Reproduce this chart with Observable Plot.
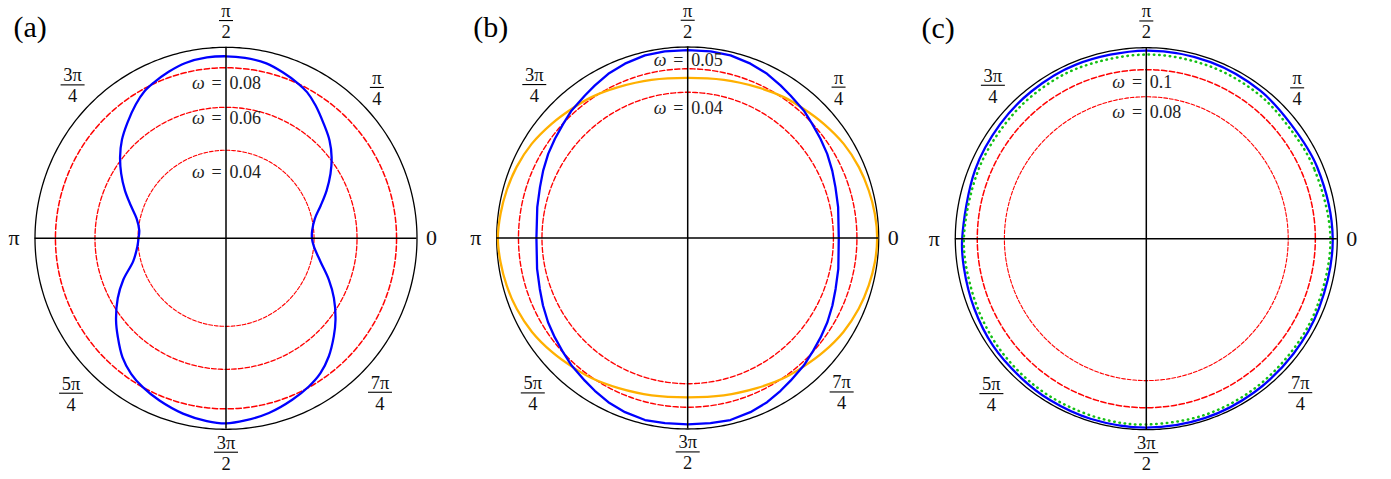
<!DOCTYPE html>
<html><head><meta charset="utf-8">
<script src="https://cdn.jsdelivr.net/npm/d3@7"></script>
<script src="https://cdn.jsdelivr.net/npm/@observablehq/plot@0.6"></script>
<style>
html,body{margin:0;padding:0;background:#fff;}
#wrap{position:relative;width:1391px;height:479px;overflow:hidden;}
#wrap > svg{position:absolute;top:0;}
#wrap svg, #wrap svg text{font-family:"Liberation Serif","DejaVu Serif",serif !important;}
</style></head><body><div id="wrap"></div>
<script>
// ---------- data ----------
const panelLabels = ["(a)", "(b)", "(c)"];
const tickAngles = [0, 45, 90, 135, 180, 225, 270, 315];
const tickNum = ["0", "π", "π", "3π", "π", "5π", "3π", "7π"];
const tickDen = ["", "4", "2", "4", "", "4", "2", "4"];
const tickRadius = [1.076, 1.117, 1.14, 1.136, 1.11, 1.147, 1.12, 1.14];

// radii are fractions of the outer circle radius
const aOmega = ["0.04", "0.06", "0.08"];
const aRingR = [0.461, 0.686, 0.893];
const aLabelR = [0.346, 0.626, 0.812];
const bOmega = ["0.04", "0.05"];
const bRingR = [0.763, 0.886];
const bLabelR = [0.682, 0.929];
const cOmega = ["0.08", "0.1"];
const cRingR = [0.743, 0.885];
const cLabelR = [0.664, 0.818];

const aBlueTheta = [-90,-84,-76.2,-67.7,-60.8,-55,-49,-42.3,-36.7,-29,-22,-13.8,-5.3,0,5.2,12.4,19,25.4,31.7,37.5,43.4,49.5,56,61,65,71,77,84,90,96,103,109,115,119,124,130.5,136.6,142.5,148.3,154.6,161,167.6,174.8,180,185.3,193.8,202,209,216.7,222.3,229,235,240.8,247.7,256.2,264];
const aBlueR = [0.969,0.959,0.942,0.914,0.889,0.862,0.820,0.763,0.715,0.646,0.581,0.509,0.462,0.450,0.453,0.476,0.524,0.583,0.643,0.697,0.746,0.788,0.839,0.875,0.894,0.918,0.940,0.950,0.953,0.952,0.942,0.922,0.898,0.880,0.845,0.795,0.750,0.699,0.645,0.586,0.527,0.479,0.456,0.458,0.466,0.500,0.580,0.648,0.718,0.766,0.826,0.866,0.893,0.918,0.945,0.962];

const bBlueTheta = [0,11.6,19,25,31.1,36.8,42.5,47.7,54.2,58.7,64.2,70.2,76.8,83,90,97,103.2,109.8,115.8,121.3,125.8,132.3,137.5,143.2,148.9,155,161,168.4,180,191.6,199,205,211.1,216.8,222.5,227.7,234.2,238.7,244.2,250.2,256.8,263,270,277,283.2,289.8,295.8,301.3,305.8,312.3,317.5,323.2,328.9,335,341,348.4];
const bBlueR = [0.791,0.804,0.818,0.835,0.853,0.868,0.884,0.903,0.920,0.935,0.955,0.970,0.982,0.984,0.984,0.984,0.982,0.970,0.955,0.935,0.920,0.903,0.884,0.868,0.853,0.835,0.818,0.804,0.792,0.805,0.819,0.836,0.854,0.869,0.885,0.903,0.921,0.936,0.955,0.969,0.979,0.977,0.976,0.977,0.979,0.969,0.955,0.936,0.921,0.903,0.885,0.869,0.854,0.836,0.819,0.805];

const bOrangeTheta = [0,7.4,14.7,22.5,31.1,40,48,55.7,65.3,77.1,90,102.9,114.7,124.3,132,140,148.9,157.5,165.3,172.6,180,187.4,194.7,202.5,211.1,220,228,235.7,245.3,257.1,270,282.9,294.7,304.3,312,320,328.9,337.5,345.3,352.6];
const bOrangeR = [0.992,0.988,0.980,0.970,0.954,0.930,0.909,0.893,0.869,0.849,0.838,0.849,0.869,0.893,0.909,0.930,0.954,0.970,0.980,0.988,0.994,0.988,0.980,0.969,0.952,0.928,0.906,0.889,0.865,0.845,0.834,0.845,0.865,0.889,0.906,0.928,0.952,0.969,0.980,0.988];

const cBlueTheta = [0,22.7,38.5,52.4,70,90,112,128,142,158,180,189,202,215,228,239,253,270,288,305,322,338];
const cBlueR = [0.976,0.970,0.966,0.978,0.984,0.985,0.983,0.978,0.972,0.966,0.964,0.967,0.972,0.979,0.980,0.984,0.987,0.989,0.988,0.983,0.978,0.975];
const cGreenTheta = [0,22.7,38.5,52.4,70,90,112,128,142,158,180,195,208,220,233,245,258,270,288,305,322,338];
const cGreenR = [0.964,0.952,0.948,0.958,0.962,0.964,0.962,0.958,0.952,0.950,0.955,0.953,0.957,0.962,0.966,0.968,0.972,0.973,0.972,0.968,0.963,0.962];

// ---------- helpers ----------
const RAD = Math.PI / 180;
const polar = (t, r) => ({x: r * Math.cos(t * RAD), y: r * Math.sin(t * RAD)});
const curveTable = (thetas, rs) => thetas.map((t, i) => polar(t, rs[i]));
const circleTable = r => d3.range(0, 360, 1).map(t => polar(t, r));

const BLUE = "#0000ff", RED = "#ff0000", ORANGE = "#ffb000", GREEN = "#14c014";
const R_PX = 191;
const FONT = "'Liberation Serif', 'DejaVu Serif', serif";

const panels = [
  {label: panelLabels[0], left: 0, width: 460, cx: 225.5, cy: 237.8, labelDx: -21.5,
   omega: aOmega, ringR: aRingR, labelR: aLabelR,
   ringW: [1.1, 1.3, 1.5], ringDash: ["3.8,1.8", "4.6,2.1", "5.4,2.5"],
   curves: [{t: aBlueTheta, r: aBlueR, stroke: BLUE, w: 2.3, curve: "catmull-rom-closed"}]},
  {label: panelLabels[1], left: 460, width: 460, cx: 227.2, cy: 237.5, labelDx: -23.5,
   omega: bOmega, ringR: bRingR, labelR: bLabelR,
   ringW: [1.35, 1.4], ringDash: ["5,2.3", "5.2,2.4"],
   curves: [{t: bOrangeTheta, r: bOrangeR, stroke: ORANGE, w: 2.3, curve: "catmull-rom-closed"},
            {t: bBlueTheta, r: bBlueR, stroke: BLUE, w: 2.3, curve: "linear-closed"}]},
  {label: panelLabels[2], left: 920, width: 471, cx: 225.8, cy: 238.2, labelDx: -33.8,
   omega: cOmega, ringR: cRingR, labelR: cLabelR,
   ringW: [1.1, 1.5], ringDash: ["3.8,1.8", "5.4,2.5"],
   curves: [{t: cBlueTheta, r: cBlueR, stroke: BLUE, w: 2.3, curve: "catmull-rom-closed"},
            {t: cGreenTheta, r: cGreenR, stroke: GREEN, w: 2.5, dash: "0.5,4.8", cap: "round", curve: "catmull-rom-closed"}]}
];

const barSymbol = {draw(ctx, size) { const w = Math.sqrt(size / Math.PI); ctx.moveTo(-w, 0); ctx.lineTo(w, 0); }};

const ticks = tickAngles.map((a, i) => ({...polar(a, tickRadius[i]), num: tickNum[i], den: tickDen[i]}));
const singleTicks = ticks.filter(d => d.den === "");
const fracTicks = ticks.filter(d => d.den !== "");

const wrap = document.getElementById("wrap");
const H = 479;

for (const p of panels) {
  const mL = p.cx - R_PX, mR = p.width - p.cx - R_PX, mT = p.cy - R_PX, mB = H - p.cy - R_PX;
  const omegaTable = p.omega.map((w, i) => ({x: 0, y: p.labelR[i], val: w}));
  const marks = [];
  marks.push(Plot.line(circleTable(1), {x: "x", y: "y", stroke: "black", strokeWidth: 1.3, curve: "linear-closed"}));
  p.ringR.forEach((r, i) => {
    marks.push(Plot.line(circleTable(r), {x: "x", y: "y", stroke: RED, strokeWidth: p.ringW[i], strokeDasharray: p.ringDash[i], curve: "linear-closed"}));
  });
  for (const c of p.curves) {
    marks.push(Plot.line(curveTable(c.t, c.r), {x: "x", y: "y", stroke: c.stroke, strokeWidth: c.w, curve: c.curve, strokeDasharray: c.dash, strokeLinecap: c.cap || "butt", strokeLinejoin: "round"}));
  }
  marks.push(Plot.ruleX([0], {y1: -1, y2: 1, stroke: "black", strokeWidth: 1.5}));
  marks.push(Plot.ruleY([0], {x1: -1, x2: 1, stroke: "black", strokeWidth: 1.5}));
  // omega labels
  marks.push(Plot.text(omegaTable, {x: "x", y: "y", text: () => "ω", textAnchor: "start", dx: -34, fontStyle: "italic", fontSize: 18, fill: "#222", fontFamily: FONT}));
  marks.push(Plot.text(omegaTable, {x: "x", y: "y", text: () => "=", textAnchor: "middle", dx: -9.3, fontSize: 18, fill: "#222", fontFamily: FONT}));
  marks.push(Plot.text(omegaTable, {x: "x", y: "y", text: "val", textAnchor: "start", dx: 3.5, fontSize: 18, fill: "#222", fontFamily: FONT}));
  // angular tick labels
  marks.push(Plot.text(singleTicks, {x: "x", y: "y", text: "num", fontSize: 22, lineAnchor: "middle", fill: "#111", fontFamily: FONT}));
  marks.push(Plot.text(fracTicks, {x: "x", y: "y", text: "num", fontSize: 18.5, lineAnchor: "bottom", dy: -3.5, fill: "#111", fontFamily: FONT}));
  marks.push(Plot.text(fracTicks, {x: "x", y: "y", text: "den", fontSize: 18.5, lineAnchor: "bottom", dy: 17.5, fill: "#111", fontFamily: FONT}));
  marks.push(Plot.dot(fracTicks.filter(d => d.num.length === 1), {x: "x", y: "y", r: 7, symbol: barSymbol, fill: "none", stroke: "black", strokeWidth: 1.1}));
  marks.push(Plot.dot(fracTicks.filter(d => d.num.length > 1), {x: "x", y: "y", r: 12, symbol: barSymbol, fill: "none", stroke: "black", strokeWidth: 1.1}));
  // panel label
  marks.push(Plot.text([p.label], {frameAnchor: "top-left", text: d => d, textAnchor: "start", lineAnchor: "middle", dx: p.labelDx, dy: -19.8, fontSize: 30, fill: "black", fontFamily: FONT}));

  const svg = Plot.plot({
    width: p.width, height: H,
    marginLeft: mL, marginRight: mR, marginTop: mT, marginBottom: mB,
    x: {domain: [-1, 1], axis: null},
    y: {domain: [-1, 1], axis: null},
    style: {fontFamily: FONT, background: "white", overflow: "visible"},
    marks
  });
  svg.style.left = p.left + "px";
  wrap.appendChild(svg);
}
</script></body></html>
